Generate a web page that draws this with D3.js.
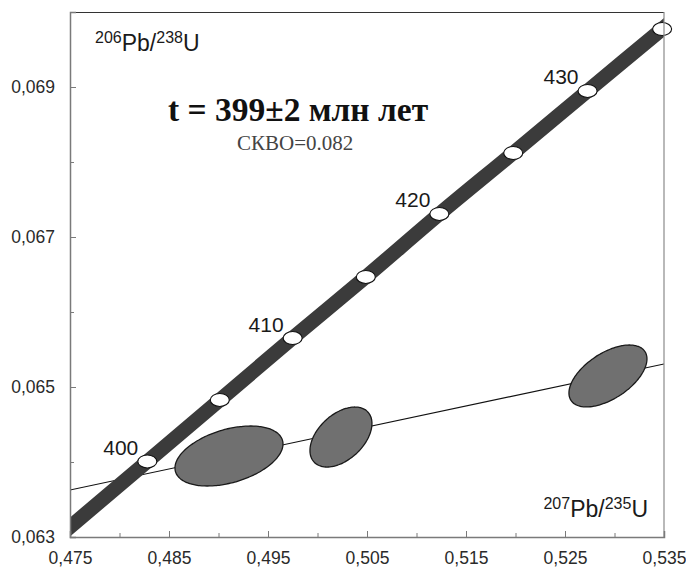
<!DOCTYPE html>
<html><head><meta charset="utf-8">
<script src="https://cdn.jsdelivr.net/npm/d3@7"></script>
<style>
html,body{margin:0;padding:0;background:#fff;}
svg{display:block;}
</style></head>
<body>
<svg id="chart" width="686" height="568"></svg>
<script>
// ---- data ----
const xDomain = [0.475, 0.535];
const yDomain = [0.063, 0.070];
const xMajorTicks = [0.475, 0.485, 0.495, 0.505, 0.515, 0.525, 0.535];
const xTickLabels = ["0,475", "0,485", "0,495", "0,505", "0,515", "0,525", "0,535"];
const xMinorTicks = [0.480, 0.490, 0.500, 0.510, 0.520, 0.530];
const yMajorTicks = [0.063, 0.065, 0.067, 0.069];
const yTickLabels = ["0,063", "0,065", "0,067", "0,069"];
const yMinorTicks = [0.064, 0.066, 0.068, 0.070];

// concordia age marks (Ma) and their ratios
const concordiaAges = [400, 405, 410, 415, 420, 425, 430, 435];
const concordiaX = [0.48281, 0.49013, 0.49749, 0.50488, 0.51231, 0.51977, 0.52728, 0.53481];
const concordiaY = [0.064007, 0.064827, 0.065653, 0.066467, 0.067307, 0.068120, 0.068947, 0.069773];
const labeledAges = [400, 410, 420, 430];
// concordia band extends beyond the frame
const bandStartX = [0.4700], bandStartY = [0.062575];
const bandEndX = [0.5400], bandEndY = [0.070345];

// discordia line
const discordiaX = [0.475, 0.535];
const discordiaY = [0.063627, 0.065307];

// analyses: centre, half-ranges (data units) and error correlation
const spotX = [0.49106, 0.50237, 0.52934];
const spotY = [0.06408, 0.064333, 0.065147];
const spotSx = [0.005455, 0.00313, 0.00394];
const spotSy = [0.000400, 0.000400, 0.000413];
const spotRho = [0.40, 0.45, 0.55];

const titleText = "t = 399±2 млн лет";
const msdwText = "СКВО=0.082";

// ---- drawing ----
const svg = d3.select("#chart");
const L = 70, R = 664, T = 12, B = 537;
const x = d3.scaleLinear().domain(xDomain).range([L, R]);
const y = d3.scaleLinear().domain(yDomain).range([B, T]);

svg.append("defs").append("clipPath").attr("id", "plotclip")
  .append("rect").attr("x", L).attr("y", T).attr("width", R - L).attr("height", B - T);

const plot = svg.append("g").attr("clip-path", "url(#plotclip)");

// discordia
plot.append("path")
  .attr("d", d3.line()(discordiaX.map((d, i) => [x(d), y(discordiaY[i])])))
  .attr("stroke", "#111").attr("stroke-width", 1.1).attr("fill", "none");

// error ellipses
spotX.forEach((cx, i) => {
  const pts = d3.range(0, 120).map(k => {
    const t = k / 120 * 2 * Math.PI;
    const dx = spotSx[i] * Math.cos(t);
    const dy = spotSy[i] * (spotRho[i] * Math.cos(t) + Math.sqrt(1 - spotRho[i] ** 2) * Math.sin(t));
    return [x(cx + dx), y(spotY[i] + dy)];
  });
  plot.append("path")
    .attr("d", d3.line().curve(d3.curveCardinalClosed)(pts))
    .attr("fill", "#707070").attr("stroke", "#1a1a1a").attr("stroke-width", 1.3);
});

// concordia band
const bandPts = [[x(bandStartX[0]), y(bandStartY[0])]]
  .concat(concordiaX.map((d, i) => [x(d), y(concordiaY[i])]))
  .concat([[x(bandEndX[0]), y(bandEndY[0])]]);
plot.append("path")
  .attr("d", d3.line().curve(d3.curveMonotoneX)(bandPts))
  .attr("stroke", "#3b3b3b").attr("stroke-width", 14.5).attr("fill", "none");

// age markers
const markerG = svg.append("g");
concordiaAges.forEach((a, i) => {
  markerG.append("ellipse")
    .attr("cx", x(concordiaX[i])).attr("cy", y(concordiaY[i]))
    .attr("rx", 9.5).attr("ry", 6.5)
    .attr("fill", "#fff").attr("stroke", "#111").attr("stroke-width", 1.1);
});
concordiaAges.forEach((a, i) => {
  if (!labeledAges.includes(a)) return;
  svg.append("text")
    .attr("x", x(concordiaX[i]) - 9).attr("y", y(concordiaY[i]) - 6.5)
    .attr("text-anchor", "end")
    .attr("font-family", "Liberation Sans, Arial, sans-serif")
    .attr("font-size", 21).attr("fill", "#1a1a1a")
    .text(a);
});

// frame
svg.append("line").attr("x1", L).attr("x2", R).attr("y1", T + 0.5).attr("y2", T + 0.5)
  .attr("stroke", "#333").attr("stroke-width", 1.2);
svg.append("line").attr("x1", R).attr("x2", R).attr("y1", T).attr("y2", B)
  .attr("stroke", "#8a8a8a").attr("stroke-width", 1.2);

// axes
const font = "Liberation Sans, Arial, sans-serif";
const xAxis = svg.append("g").attr("transform", `translate(0,${B})`)
  .call(d3.axisBottom(x).tickValues(xMajorTicks).tickSize(-6).tickPadding(14.5)
    .tickFormat((d, i) => xTickLabels[i]));
svg.append("g").attr("transform", `translate(0,${B})`)
  .call(d3.axisBottom(x).tickValues(xMinorTicks).tickSize(-4).tickFormat(""))
  .call(g => g.select(".domain").remove());
const yAxis = svg.append("g").attr("transform", `translate(${L},0)`)
  .call(d3.axisLeft(y).tickValues(yMajorTicks).tickSize(-6).tickPadding(15)
    .tickFormat((d, i) => yTickLabels[i]));
svg.append("g").attr("transform", `translate(${L},0)`)
  .call(d3.axisLeft(y).tickValues(yMinorTicks).tickSize(-4).tickFormat(""))
  .call(g => g.select(".domain").remove());

svg.selectAll(".domain").attr("stroke", "#7a7a7a").attr("stroke-width", 1.5);
svg.selectAll(".tick line").attr("stroke", "#7a7a7a").attr("stroke-width", 1);
svg.selectAll(".tick text").attr("font-family", font).attr("font-size", 17.5).attr("fill", "#2a2a2a");
xAxis.selectAll(".tick text").attr("dy", "0.71em");
yAxis.selectAll(".tick text").attr("dy", "0.32em");

// axis titles
const t1 = svg.append("text").attr("x", 95).attr("y", 51)
  .attr("font-family", font).attr("font-size", 23).attr("fill", "#1a1a1a");
t1.append("tspan").attr("font-size", 16).attr("dy", -8).text("206");
t1.append("tspan").attr("dy", 8).text("Pb/");
t1.append("tspan").attr("font-size", 16).attr("dy", -8).text("238");
t1.append("tspan").attr("dy", 8).text("U");

const t2 = svg.append("text").attr("x", 648).attr("y", 517).attr("text-anchor", "end")
  .attr("font-family", font).attr("font-size", 23).attr("fill", "#1a1a1a");
t2.append("tspan").attr("font-size", 16).attr("dy", -8).text("207");
t2.append("tspan").attr("dy", 8).text("Pb/");
t2.append("tspan").attr("font-size", 16).attr("dy", -8).text("235");
t2.append("tspan").attr("dy", 8).text("U");

// title
svg.append("text").attr("x", 168).attr("y", 120.5)
  .attr("font-family", "Liberation Serif, Times New Roman, serif")
  .attr("font-weight", "bold").attr("font-size", 33.5).attr("fill", "#111")
  .text(titleText);
svg.append("text").attr("x", 237).attr("y", 150)
  .attr("font-family", "Liberation Serif, Times New Roman, serif")
  .attr("font-size", 21).attr("fill", "#444")
  .text(msdwText);
</script>
</body></html>
